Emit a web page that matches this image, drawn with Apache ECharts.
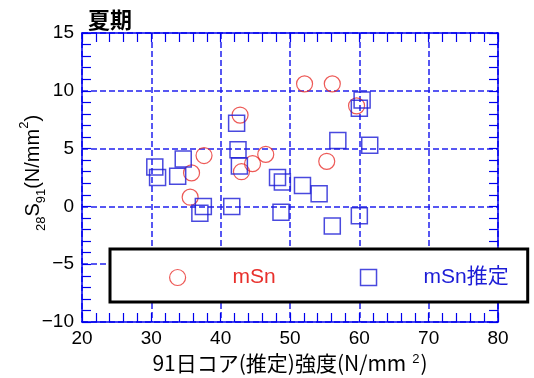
<!DOCTYPE html>
<html>
<head>
<meta charset="utf-8">
<script src="https://cdn.jsdelivr.net/npm/echarts@6/dist/echarts.min.js"></script>
<style>
  html, body { margin: 0; padding: 0; background: #fff; }
  #chart { width: 534px; height: 378px; }
</style>
</head>
<body>
<div id="chart"></div>
<script>
// Summer-season data: 91-day core strength vs. S(28,91) strength difference
const seriesNames = ['mSn', 'mSn推定'];

// mSn (measured)
const mSnX = [42.8, 37.6, 35.8, 35.6, 43.0, 44.6, 46.5, 52.1, 56.1, 59.6, 55.3];
const mSnY = [7.9, 4.4, 2.9, 0.8, 3.0, 3.7, 4.5, 10.6, 10.6, 8.7, 3.9];

// mSn推定 (estimated)
const estX = [42.3, 42.5, 42.7, 34.6, 30.5, 30.9, 33.8, 37.5, 37.0, 41.6, 48.2, 48.9, 48.7, 51.8, 54.2, 56.1, 60.0, 56.9, 61.5, 60.4, 60.0];
const estY = [7.2, 4.9, 3.5, 4.1, 3.4, 2.5, 2.6, 0.0, -0.6, 0.0, 2.5, 2.1, -0.5, 1.8, 1.1, -1.7, -0.8, 5.7, 5.3, 9.2, 8.5];

const xTicks = { min: 20, max: 80, interval: 10 };
const yTicks = { min: -10, max: 15, interval: 5 };

const FONT = "'Liberation Sans', 'Noto Sans CJK JP', sans-serif";
const CJK_FONT = "'Noto Sans CJK JP', sans-serif";
const AXIS_BLUE = '#0000ee';
const GRID_BLUE = '#2020ee';
const RED = '#e8302c';
const BLUE = '#1c1cd6';

const pairs = (xs, ys) => xs.map((x, i) => [x, ys[i]]);
const minusSign = v => String(v).replace('-', '\u2212');

const tickCommon = () => ({
  axisLine: { show: true, onZero: false, lineStyle: { color: AXIS_BLUE, width: 1.5 } },
  axisTick: { show: true, inside: true, length: 9, lineStyle: { color: AXIS_BLUE, width: 1.2 } },
  minorTick: { show: true, splitNumber: 5, length: 9, lineStyle: { color: AXIS_BLUE, width: 1.2 } }
});

const gridLine = () => ({ show: true, lineStyle: { color: GRID_BLUE, type: [6, 3], width: 1.5 } });
const labelStyle = () => ({ color: '#000', fontSize: 19, fontFamily: FONT });

const chart = echarts.init(document.getElementById('chart'), null, { renderer: 'canvas' });

chart.setOption({
  animation: false,
  backgroundColor: '#fff',
  grid: { left: 82, right: 36, top: 33, bottom: 56, containLabel: false, outerBoundsMode: 'none' },
  title: {
    text: '夏期',
    left: 83, top: 4,
    textStyle: { fontSize: 22, fontWeight: 'bold', color: '#000', fontFamily: CJK_FONT }
  },
  xAxis: [
    Object.assign({
      type: 'value', position: 'bottom',
      min: xTicks.min, max: xTicks.max, interval: xTicks.interval,
      axisLabel: Object.assign({ margin: 7, formatter: minusSign }, labelStyle()),
      splitLine: gridLine(),
      name: '91日コア(推定)強度(N/mm{sup|2})',
      nameLocation: 'middle', nameGap: 30,
      nameTextStyle: {
        fontSize: 21, color: '#000', fontFamily: CJK_FONT,
        rich: { sup: { fontSize: 13, verticalAlign: 'top', lineHeight: 13, padding: [0, 1, 0, 6], fontFamily: FONT, color: '#000' } }
      }
    }, tickCommon()),
    Object.assign({
      type: 'value', position: 'top',
      min: xTicks.min, max: xTicks.max, interval: xTicks.interval,
      axisLabel: { show: false },
      splitLine: { show: false }
    }, tickCommon())
  ],
  yAxis: [
    Object.assign({
      type: 'value', position: 'left',
      min: yTicks.min, max: yTicks.max, interval: yTicks.interval,
      axisLabel: Object.assign({ margin: 8, formatter: minusSign }, labelStyle()),
      splitLine: gridLine()
    }, tickCommon()),
    Object.assign({
      type: 'value', position: 'right',
      min: yTicks.min, max: yTicks.max, interval: yTicks.interval,
      axisLabel: { show: false },
      splitLine: { show: false }
    }, tickCommon())
  ],
  legend: {
    left: 110, top: 249,
    padding: [18, 19, 14, 59],
    itemGap: 84,
    itemWidth: 16, itemHeight: 16,
    borderColor: '#000', borderWidth: 3,
    backgroundColor: '#fff',
    data: [
      { name: seriesNames[0], icon: 'circle',
        itemStyle: { color: 'transparent', borderColor: RED, borderWidth: 1.2 },
        textStyle: { color: RED, fontSize: 21, fontFamily: FONT, padding: [0, 0, 0, 42] } },
      { name: seriesNames[1], icon: 'rect',
        itemStyle: { color: 'transparent', borderColor: BLUE, borderWidth: 1.5 },
        textStyle: { color: BLUE, fontSize: 21, fontFamily: FONT, padding: [0, 0, 0, 42] } }
    ]
  },
  graphic: [{
    type: 'text',
    x: 33, y: 173,
    rotation: Math.PI / 2,
    style: {
      text: '{sub|28}{big|S}{sub|91}{big|(N/mm}{sup|2}{big|)}',
      align: 'center', verticalAlign: 'middle',
      fill: '#000',
      rich: {
        big: { fontSize: 20, lineHeight: 30, verticalAlign: 'middle', fontFamily: FONT, fill: '#000' },
        sub: { fontSize: 13, lineHeight: 13, verticalAlign: 'bottom', fontFamily: FONT, fill: '#000' },
        sup: { fontSize: 13, lineHeight: 13, verticalAlign: 'top', fontFamily: FONT, fill: '#000' }
      }
    }
  }],
  series: [
    {
      name: seriesNames[0], type: 'scatter',
      symbol: 'circle', symbolSize: 16,
      itemStyle: { color: 'transparent', borderColor: RED, borderWidth: 1.2 },
      data: pairs(mSnX, mSnY), z: 2
    },
    {
      name: seriesNames[1], type: 'scatter',
      symbol: 'rect', symbolSize: 16,
      itemStyle: { color: 'transparent', borderColor: BLUE, borderWidth: 1.5 },
      data: pairs(estX, estY), z: 3
    }
  ]
});
</script>
</body>
</html>
